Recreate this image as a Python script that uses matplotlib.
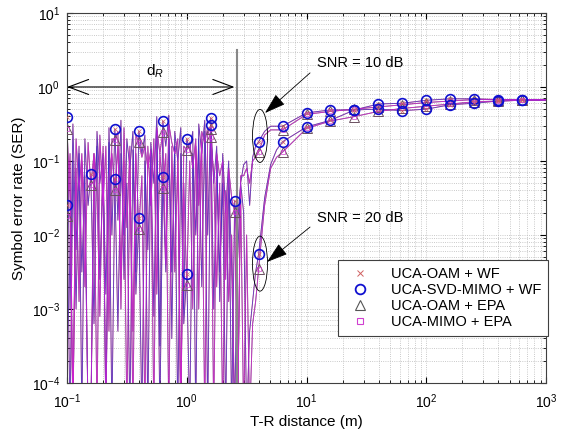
#!/usr/bin/env python3
"""SER vs T-R distance for UCA-OAM / UCA-MIMO with WF and EPA power allocation."""

import numpy as np
import matplotlib
matplotlib.use("Agg")
import matplotlib.pyplot as plt
from matplotlib.lines import Line2D
from matplotlib.patches import Ellipse

plt.rcParams.update({
    "font.family": ["Liberation Sans", "DejaVu Sans"],
    "font.size": 10,
    "mathtext.fontset": "custom",
    "mathtext.rm": "Liberation Sans",
    "mathtext.it": "Liberation Sans:italic",
})

# ---- data -----------------------------------------------------------------
# T-R distance samples (m)
dist = [0.100, 0.106, 0.112, 0.119, 0.126, 0.133, 0.141, 0.150, 0.158, 0.168,
        0.178, 0.188, 0.200, 0.211, 0.224, 0.237, 0.251, 0.266, 0.282, 0.299,
        0.316, 0.335, 0.355, 0.376, 0.398, 0.422, 0.447, 0.473, 0.501, 0.531,
        0.562, 0.596, 0.631, 0.668, 0.708, 0.750, 0.794, 0.841, 0.891, 0.944,
        1.000, 1.059, 1.122, 1.189, 1.259, 1.334, 1.413, 1.496, 1.585, 1.679,
        1.778, 1.884, 1.995, 2.113, 2.239, 2.371, 2.512, 2.661, 2.818, 2.985,
        3.162, 3.350, 3.548, 3.758, 3.981, 4.467, 5.012, 5.623, 6.310, 10.0,
        15.85, 25.12, 39.81, 63.10, 100.0, 158.5, 251.2, 398.1, 631.0, 1000.0]

# samples that carry a marker
marker_idx = [0, 8, 16, 24, 32, 40, 48, 56, 64, 68,
              69, 70, 71, 72, 73, 74, 75, 76, 77, 78]

# log10(SER), water-filling, SNR = 10 dB
log_ser_wf_10 = [
    -0.41, -3.0, -0.5, -2.2, -0.8, -4.5, -0.7, -1.6, -1.18, -3.2,
    -0.6, -1.3, -0.9, -4.5, -0.55, -2.0, -0.57, -1.8, -0.45, -2.6,
    -0.7, -1.1, -0.6, -2.5, -0.60, -0.9, -0.65, -4.5, -0.75, -1.3,
    -0.4, -3.5, -0.46, -0.8, -0.38, -3.4, -0.6, -1.0, -0.55, -3.0,
    -0.70, -0.85, -0.6, -4.5, -0.5, -0.9, -0.45, -2.0, -0.42, -1.3,
    -0.8, -2.9, -0.9, -1.7, -1.0, -4.5, -1.54, -2.3, -1.3, -1.05,
    -1.0, -1.6, -0.95, -0.8, -0.74, -0.6, -0.53, -0.53, -0.53, -0.35,
    -0.31, -0.31, -0.23, -0.22, -0.18, -0.16, -0.16, -0.17, -0.17, -0.17]

# log10(SER), equal power allocation, SNR = 10 dB
log_ser_epa_10 = [
    -0.57, -1.5, -4.5, -0.7, -1.4, -0.9, -2.7, -0.75, -1.33, -0.9,
    -4.5, -0.65, -1.6, -0.8, -3.3, -0.7, -0.72, -0.6, -3.0, -0.55,
    -1.9, -0.8, -4.5, -0.65, -0.75, -0.95, -0.8, -1.1, -0.85, -4.5,
    -0.55, -0.9, -0.61, -2.4, -0.5, -0.75, -0.9, -0.7, -4.5, -0.8,
    -0.85, -0.75, -1.1, -0.7, -3.0, -0.6, -0.75, -0.55, -0.57, -4.5,
    -0.9, -1.2, -1.0, -2.6, -1.1, -1.5, -1.69, -4.5, -1.2, -1.2,
    -1.1, -1.3, -1.0, -0.95, -0.88, -0.65, -0.58, -0.58, -0.58, -0.37,
    -0.33, -0.30, -0.27, -0.24, -0.21, -0.19, -0.17, -0.17, -0.17, -0.17]

# log10(SER), water-filling, SNR = 20 dB
log_ser_wf_20 = [
    -1.59, -4.5, -1.0, -3.0, -0.9, -2.5, -1.2, -4.5, -4.5, -1.4,
    -0.8, -2.6, -1.1, -2.8, -0.75, -4.5, -1.24, -3.3, -0.9, -2.0,
    -1.3, -4.5, -0.85, -2.8, -1.77, -4.5, -1.0, -2.2, -0.9, -3.1,
    -0.6, -4.5, -1.22, -2.5, -0.7, -2.5, -0.8, -4.5, -0.9, -3.2,
    -2.53, -4.5, -0.9, -2.0, -0.7, -2.7, -0.6, -4.5, -0.52, -3.0,
    -1.0, -2.5, -1.3, -4.5, -1.2, -2.4, -4.5, -1.8, -1.3, -1.7,
    -4.5, -3.3, -2.9, -2.5, -2.26, -1.5, -1.05, -0.85, -0.74, -0.54,
    -0.45, -0.31, -0.30, -0.32, -0.30, -0.24, -0.22, -0.19, -0.18, -0.18]

# log10(SER), equal power allocation, SNR = 20 dB
log_ser_epa_20 = [
    -1.74, -0.9, -4.5, -1.1, -2.9, -1.0, -1.6, -4.5, -4.5, -0.9,
    -1.4, -3.1, -0.8, -4.5, -1.2, -0.9, -1.39, -0.8, -2.6, -1.0,
    -4.5, -1.1, -3.3, -0.9, -1.92, -1.2, -4.5, -0.8, -1.6, -0.7,
    -2.8, -0.9, -1.37, -0.9, -4.5, -0.8, -2.5, -1.0, -4.5, -1.3,
    -2.68, -1.0, -3.0, -0.8, -1.6, -0.75, -4.5, -0.6, -0.67, -1.2,
    -2.7, -1.3, -4.5, -1.4, -2.9, -2.0, -4.5, -4.5, -1.4, -4.5,
    -2.0, -4.5, -3.2, -2.9, -2.46, -1.6, -1.1, -0.95, -0.88, -0.56,
    -0.46, -0.40, -0.33, -0.29, -0.26, -0.23, -0.20, -0.19, -0.18, -0.18]

d_r = 2.61  # Rayleigh distance (m)

# ---- figure ---------------------------------------------------------------
fig = plt.figure(figsize=(5.66, 4.37), dpi=100)
ax = fig.add_axes([0.1184, 0.1236, 0.8463, 0.8467])

d = np.asarray(dist)
curves = {
    "wf10": 10 ** np.asarray(log_ser_wf_10),
    "epa10": 10 ** np.asarray(log_ser_epa_10),
    "wf20": 10 ** np.asarray(log_ser_wf_20),
    "epa20": 10 ** np.asarray(log_ser_epa_20),
}

# lines: red/black underneath, blue/magenta on top
for key, col, a in [("wf", "red", 0.6), ("epa", "black", 0.6),
                    ("wf", "#3030e0", 0.75), ("epa", "#e020e0", 0.75)]:
    for snr in ("10", "20"):
        ax.plot(d, curves[key + snr], color=col, lw=0.65, alpha=a)

mk = np.asarray(marker_idx)
for snr in ("10", "20"):
    y_wf = curves["wf" + snr][mk]
    y_epa = curves["epa" + snr][mk]
    ax.plot(d[mk], y_epa, ls="none", marker="^", ms=6.5, mfc="none",
            mec="#6a5060", mew=0.7, zorder=4)
    ax.plot(d[mk], y_epa, ls="none", marker="s", ms=3, mfc="none",
            mec="#d040d0", mew=0.5, zorder=4)
    ax.plot(d[mk], y_wf, ls="none", marker="o", ms=7, mfc="none",
            mec="#1010d0", mew=1.2, zorder=5)
    ax.plot(d[mk], y_wf, ls="none", marker="x", ms=3.5, color="#d06060",
            mew=0.5, zorder=5)

ax.set_xscale("log")
ax.set_yscale("log")
ax.set_xlim(0.1, 1000)
ax.set_ylim(1e-4, 10)
ax.grid(True, which="both", ls=":", lw=0.6, color="#b8b8b8")
ax.tick_params(which="both", direction="in", top=True, right=True)
ax.tick_params(which="major", length=4)
ax.tick_params(which="minor", length=2)
ax.tick_params(axis="x", pad=7)
ax.tick_params(axis="y", pad=5)
for s in ax.spines.values():
    s.set_color("#404040")
    s.set_linewidth(0.8)

ax.set_xlabel("T-R distance (m)", fontsize=11, labelpad=3)
ax.set_ylabel("Symbol error rate (SER)", fontsize=11)

# Rayleigh distance marker and d_R arrow
ax.plot([d_r, d_r], [1e-4, 10 ** 0.5], color="#888888", lw=1.5, zorder=3)
ax.annotate("", xy=(2.5, 1.0), xytext=(0.1, 1.0),
            arrowprops=dict(arrowstyle="<->,head_length=1.2,head_width=0.45",
                            color="black", lw=0.8, mutation_scale=12,
                            shrinkA=0, shrinkB=0))
ax.text(0.54, 1.64, "d$_R$", fontsize=11, ha="center", va="center")


# SNR callouts
def fx(x):
    return (np.log10(x) + 1) / 4


def fy(y):
    return (np.log10(y) + 4) / 5


for (cx, cy), h in [((4.09, 0.218), 53), ((4.09, 0.0041), 55)]:
    ax.add_patch(Ellipse((fx(cx), fy(cy)), 15 / 479, h / 370,
                         transform=ax.transAxes, fill=False,
                         ec="black", lw=0.6, zorder=6))

for txt, xt, yt, xs, ys, xh, yh in [
        ("SNR = 10 dB", 12.2, 2.11, 10.7, 1.55, 4.5, 0.445),
        ("SNR = 20 dB", 12.2, 0.017, 10.7, 0.0128, 4.68, 0.00432)]:
    ax.text(xt, yt, txt, fontsize=10.5, ha="left", va="center")
    ax.annotate("", xy=(xh, yh), xytext=(xs, ys),
                arrowprops=dict(arrowstyle="-|>,head_length=1.1,head_width=0.35",
                                color="black", lw=0.6, mutation_scale=12,
                                shrinkA=0, shrinkB=0), zorder=6)

handles = [
    Line2D([0], [0], ls="none", marker="x", ms=5, color="#d06060", mew=0.7),
    Line2D([0], [0], ls="none", marker="o", ms=7, mfc="none", mec="#1010d0", mew=1.3),
    Line2D([0], [0], ls="none", marker="^", ms=7, mfc="none", mec="#555555", mew=0.8),
    Line2D([0], [0], ls="none", marker="s", ms=4, mfc="none", mec="#d040d0", mew=0.8),
]
labels = ["UCA-OAM + WF", "UCA-SVD-MIMO + WF", "UCA-OAM + EPA", "UCA-MIMO + EPA"]
leg = ax.legend(handles, labels, loc="lower right", bbox_to_anchor=(1.004, 0.127),
                borderaxespad=0, fontsize=10.5, frameon=True, fancybox=False,
                edgecolor="#404040", framealpha=1, borderpad=0.45,
                labelspacing=0.15, handletextpad=1.0, handlelength=2.2)
leg.get_frame().set_linewidth(0.8)
leg.set_zorder(10)

fig.savefig("out.png", dpi=100)
